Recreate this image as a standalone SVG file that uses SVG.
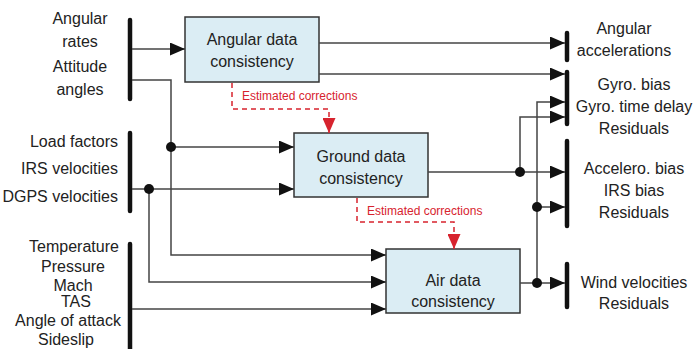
<svg xmlns="http://www.w3.org/2000/svg" width="694" height="349" viewBox="0 0 694 349">
<style>
text{font-family:"Liberation Sans",Arial,sans-serif;fill:#222}
.lbl{font-size:16px}
.mid{text-anchor:middle}
.end{text-anchor:end}
.red{font-size:12px;fill:#d7232e}
.box{fill:#dbedf4;stroke:#333;stroke-width:1.5}
.bar{stroke:#111;stroke-width:4.5;stroke-linecap:round}
.c{fill:none;stroke:#444;stroke-width:1.5}
.d{fill:none;stroke:#d7232e;stroke-width:1.5;stroke-dasharray:5 4}
.dot{fill:#111}
</style>
<defs>
<marker id="ah" markerUnits="userSpaceOnUse" markerWidth="16" markerHeight="14" refX="15" refY="6.5" orient="auto">
<path d="M0,0 L15,6.5 L0,13 Z" fill="#111"/>
</marker>
<marker id="rh" markerUnits="userSpaceOnUse" markerWidth="14" markerHeight="16" refX="6.5" refY="15" orient="0">
<path d="M0,0 L13,0 L6.5,15 Z" fill="#d7232e"/>
</marker>
</defs>

<g id="inputs-angular">
<line class="bar" x1="130" y1="20" x2="130" y2="99"/>
<text class="lbl mid" x="80" y="24">Angular</text>
<text class="lbl mid" x="80" y="47">rates</text>
<text class="lbl mid" x="80" y="72">Attitude</text>
<text class="lbl mid" x="80" y="95">angles</text>
</g>
<g id="inputs-ground">
<line class="bar" x1="130" y1="133" x2="130" y2="211"/>
<text class="lbl end" x="118" y="147">Load factors</text>
<text class="lbl end" x="118" y="174">IRS velocities</text>
<text class="lbl end" x="118" y="202">DGPS velocities</text>
</g>
<g id="inputs-air">
<line class="bar" x1="130" y1="244" x2="130" y2="352"/>
<text class="lbl mid" x="74" y="252">Temperature</text>
<text class="lbl mid" x="73" y="272">Pressure</text>
<text class="lbl mid" x="73" y="291">Mach</text>
<text class="lbl mid" x="76" y="307">TAS</text>
<text class="lbl mid" x="68" y="326">Angle of attack</text>
<text class="lbl mid" x="66" y="345">Sideslip</text>
</g>

<g id="angular-data-consistency">
<rect class="box" x="185" y="17" width="134" height="65"/>
<text class="lbl mid" x="252" y="45">Angular data</text>
<text class="lbl mid" x="252" y="67">consistency</text>
</g>
<g id="ground-data-consistency">
<rect class="box" x="294" y="133" width="134" height="64"/>
<text class="lbl mid" x="361" y="162">Ground data</text>
<text class="lbl mid" x="361" y="184">consistency</text>
</g>
<g id="air-data-consistency">
<rect class="box" x="386" y="249" width="134" height="64"/>
<text class="lbl mid" x="453" y="286">Air data</text>
<text class="lbl mid" x="453" y="307">consistency</text>
</g>

<g id="outputs-angular-acc">
<line class="bar" x1="567" y1="33" x2="567" y2="60"/>
<text class="lbl mid" x="624" y="34">Angular</text>
<text class="lbl mid" x="624" y="56">accelerations</text>
</g>
<g id="outputs-gyro">
<line class="bar" x1="567" y1="72" x2="567" y2="124"/>
<text class="lbl mid" x="634" y="90">Gyro. bias</text>
<text class="lbl mid" x="634" y="112">Gyro. time delay</text>
<text class="lbl mid" x="634" y="134">Residuals</text>
</g>
<g id="outputs-accelero">
<line class="bar" x1="567" y1="141" x2="567" y2="226"/>
<text class="lbl mid" x="634" y="174">Accelero. bias</text>
<text class="lbl mid" x="634" y="196">IRS bias</text>
<text class="lbl mid" x="634" y="218">Residuals</text>
</g>
<g id="outputs-wind">
<line class="bar" x1="567" y1="264" x2="567" y2="307"/>
<text class="lbl mid" x="634" y="288">Wind velocities</text>
<text class="lbl mid" x="634" y="309">Residuals</text>
</g>

<g id="connectors">
<path class="c" d="M132,49 H185" marker-end="url(#ah)"/>
<path class="c" d="M132,80 H171 V255 H386" marker-end="url(#ah)"/>
<path class="c" d="M171,147 H294" marker-end="url(#ah)"/>
<path class="c" d="M132,189 H294" marker-end="url(#ah)"/>
<path class="c" d="M149,189 V282 H386" marker-end="url(#ah)"/>
<path class="c" d="M132,309 H386" marker-end="url(#ah)"/>
<path class="c" d="M319,43 H565" marker-end="url(#ah)"/>
<path class="c" d="M319,74 H565" marker-end="url(#ah)"/>
<path class="c" d="M428,172 H565" marker-end="url(#ah)"/>
<path class="c" d="M520,172 V117 H565" marker-end="url(#ah)"/>
<path class="c" d="M520,283 H565" marker-end="url(#ah)"/>
<path class="c" d="M537,283 V102 H565" marker-end="url(#ah)"/>
<path class="c" d="M537,207 H565" marker-end="url(#ah)"/>
<circle class="dot" cx="171" cy="147" r="5"/>
<circle class="dot" cx="149" cy="189" r="5"/>
<circle class="dot" cx="520" cy="172" r="5"/>
<circle class="dot" cx="537" cy="207" r="5"/>
<circle class="dot" cx="537" cy="283" r="5"/>
<path class="d" d="M232,83 V109 H329 V133" marker-end="url(#rh)"/>
<path class="d" d="M357,198 V222 H454 V249" marker-end="url(#rh)"/>
<text class="red" x="242" y="100">Estimated corrections</text>
<text class="red" x="367" y="215">Estimated corrections</text>
</g>
</svg>
